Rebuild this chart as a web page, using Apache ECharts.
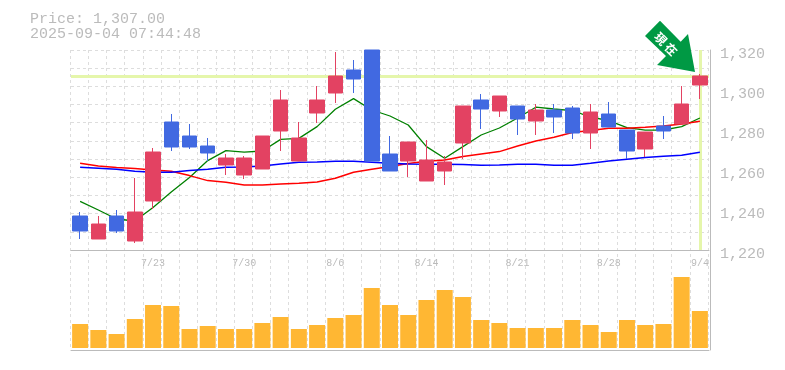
<!DOCTYPE html>
<html><head><meta charset="utf-8"><style>html,body{margin:0;padding:0;background:#fff}#c{width:785px;height:370px}</style>
<script src="https://cdn.jsdelivr.net/npm/echarts@6/dist/echarts.min.js"></script></head><body><div id="c"></div>
<script>
const categories=['7/16','7/17','7/18','7/22','7/23','7/24','7/25','7/28','7/29','7/30','7/31','8/1','8/4','8/5','8/6','8/7','8/8','8/12','8/13','8/14','8/15','8/18','8/19','8/20','8/21','8/22','8/25','8/26','8/27','8/28','8/29','9/1','9/2','9/3','9/4'];
const opens=[1237,1225.5,1237,1224.5,1244.5,1284,1277,1272,1262.5,1257.5,1260.5,1279.5,1264.5,1288.5,1298.5,1310,1320,1268,1264.5,1254.5,1259.5,1273.5,1295,1289.5,1292,1284.5,1290,1291,1278.5,1288,1280,1270.5,1282,1283,1302.5];
const closes=[1229.5,1233,1229.5,1239,1269,1271.5,1271.5,1268.5,1266,1266,1277,1295,1276,1295,1307,1305.5,1264.5,1259.5,1274,1265,1264,1292,1290.5,1297,1285.5,1290,1286.5,1278.5,1289,1281.5,1269.5,1279,1279.5,1293,1307];
const lows=[1225.5,1225.5,1228.5,1223.5,1240.5,1269.5,1270.5,1264.5,1257.5,1255.5,1260.5,1269.5,1264.5,1283.5,1293.5,1298.5,1264.5,1259.5,1256.5,1254.5,1252.5,1265.5,1280.5,1286.5,1277.5,1277.5,1278.5,1275.5,1270.5,1281.5,1265.5,1266.5,1275.5,1283,1295.5];
const highs=[1239,1237,1240,1256,1271,1288,1283,1276,1268,1267,1277,1300,1284,1302,1319,1315,1320,1277,1274,1275,1267,1292,1298,1297,1292,1293,1293,1292,1293,1294,1280,1279,1287,1302,1308];
const maShort=[1244.3,1240,1235.5,1234.5,1241.2,1249,1256.2,1264.7,1269.7,1268.9,1269.5,1275.3,1275.8,1281.7,1290.4,1295.7,1290,1287,1282.5,1271.7,1265.9,1271.7,1277.5,1281,1286,1291.4,1290.5,1289.7,1286.5,1284.7,1281.2,1279.9,1280,1281.7,1286];
const maMid=[1263.4,1262,1261.2,1260.7,1260,1259.4,1257.2,1254.7,1253.9,1252.5,1252.5,1253,1253.4,1254,1255.9,1258.9,1260.4,1261.7,1263.2,1264.4,1265,1266.7,1268,1269.2,1272,1274.5,1276.4,1278.7,1279.7,1280.9,1280.9,1281.4,1282,1283,1284.4];
const maLong=[1261.4,1260.9,1260.4,1259.4,1258.9,1258.9,1259.7,1260.4,1261.4,1261.5,1262,1263,1263.9,1264,1264.4,1264.4,1263.9,1263.4,1263,1262.9,1262.9,1262.7,1262.4,1262.5,1262.9,1262.9,1262.4,1262.4,1263.4,1264.5,1265.4,1266.2,1266.9,1267.4,1268.9];
const volumes=[24,18,14,29,43,42,19,22,19,19,25,31,19,23,30,33,60,43,33,48,58,51,28,25,20,20,20,28,23,16,28,23,24,71,37];
const priceTicks=[1220,1240,1260,1280,1300,1320];
const currentPrice=1307;
const titleLines=['Price: 1,307.00','2025-09-04 07:44:48'];
const mono='"Liberation Mono",monospace';
const GREY='#bbbbbb',GRID='#dddddd';
const dash={color:GRID,type:[3,3],width:1};
const chart=echarts.init(document.getElementById('c'),null,{renderer:'canvas'});
const maSeries=(name,data,color,w)=>({name,type:'line',data,xAxisIndex:0,yAxisIndex:0,symbol:'none',z:3,silent:true,lineStyle:{color,width:w},itemStyle:{color}});
chart.setOption({
 animation:false,backgroundColor:'#fff',
 title:{text:titleLines.join('\n'),left:25,top:7,textStyle:{fontFamily:mono,fontWeight:'normal',fontSize:15,lineHeight:15,color:GREY}},
 grid:[{left:71,top:50,width:638,height:200},{left:71,top:250,width:638,height:100},{left:70,top:50,width:638,height:300}],
 xAxis:[
  {type:'category',gridIndex:0,data:categories,boundaryGap:true,axisTick:{show:false},
   axisLine:{lineStyle:{color:GREY,width:1}},
   axisLabel:{interval:(i)=>(i+1)%5===0,fontFamily:mono,fontSize:10,color:GREY,margin:8},
   splitLine:{show:false}},
  {type:'category',gridIndex:1,data:categories,boundaryGap:true,axisTick:{show:false},
   axisLine:{onZero:false,lineStyle:{color:GREY,width:1}},axisLabel:{show:false},
   splitLine:{show:false}},
  {type:'category',gridIndex:2,data:categories,boundaryGap:true,axisTick:{show:false},axisLine:{show:false},axisLabel:{show:false},
   splitLine:{show:true,interval:0,lineStyle:dash}}
 ],
 yAxis:[
  {type:'value',gridIndex:0,position:'right',offset:1,min:priceTicks[0],max:priceTicks[priceTicks.length-1],interval:20,
   axisLine:{show:true,lineStyle:{color:GREY,width:1}},axisTick:{show:false},splitLine:{show:false},
   axisLabel:{fontFamily:mono,fontSize:15,color:GREY,margin:10,verticalAlign:'top',lineHeight:8,formatter:(v)=>v.toLocaleString('en-US')}},
  {type:'value',gridIndex:0,position:'left',min:0,max:11,interval:1,axisLine:{show:false},axisTick:{show:false},axisLabel:{show:false},
   splitLine:{show:true,lineStyle:dash}},
  {type:'value',gridIndex:1,position:'right',offset:1,min:-2,max:98,axisLine:{show:true,lineStyle:{color:GREY,width:1}},axisTick:{show:false},axisLabel:{show:false},splitLine:{show:false}},
  {type:'value',gridIndex:2,min:0,max:1,show:false,splitLine:{show:false}}
 ],
 series:[
  {name:'current',type:'line',data:[],xAxisIndex:0,yAxisIndex:0,z:2,silent:true,
   markLine:{silent:true,z:1,symbol:'none',animation:false,label:{show:false},lineStyle:{color:'#e5f6ab',width:3,type:'solid'},
     data:[{yAxis:currentPrice},{xAxis:categories[categories.length-1]}]}},
  maSeries('短期',maShort,'#008000',1.3),
  maSeries('中期',maMid,'#ff0000',1.5),
  maSeries('長期',maLong,'#0000ff',1.5),
  {name:'price',type:'candlestick',xAxisIndex:0,yAxisIndex:0,z:4,barWidth:15,silent:true,
   data:categories.map((_,i)=>[opens[i],closes[i],lows[i],highs[i]]),
   itemStyle:{color:'#e34262',color0:'#4169e1',borderColor:'#e34262',borderColor0:'#4169e1',borderWidth:1}},
  {name:'volume',type:'bar',xAxisIndex:1,yAxisIndex:2,data:volumes,barWidth:16,silent:true,itemStyle:{color:'#ffb733'}}
 ],
 graphic:[
  {type:'polygon',z:20,silent:true,shape:{points:[[660,20.7],[645,36],[666,56],[657,65],[695,72],[688,34],[680.7,41.7]]},style:{fill:'#009944'}},
  {type:'text',z:21,silent:true,x:666,y:44,rotation:-Math.PI/4,style:{text:'現 在',fill:'#fff',font:'bold 12px "Noto Sans CJK JP"',align:'center',verticalAlign:'middle'}}
 ]
});
</script></body></html>
